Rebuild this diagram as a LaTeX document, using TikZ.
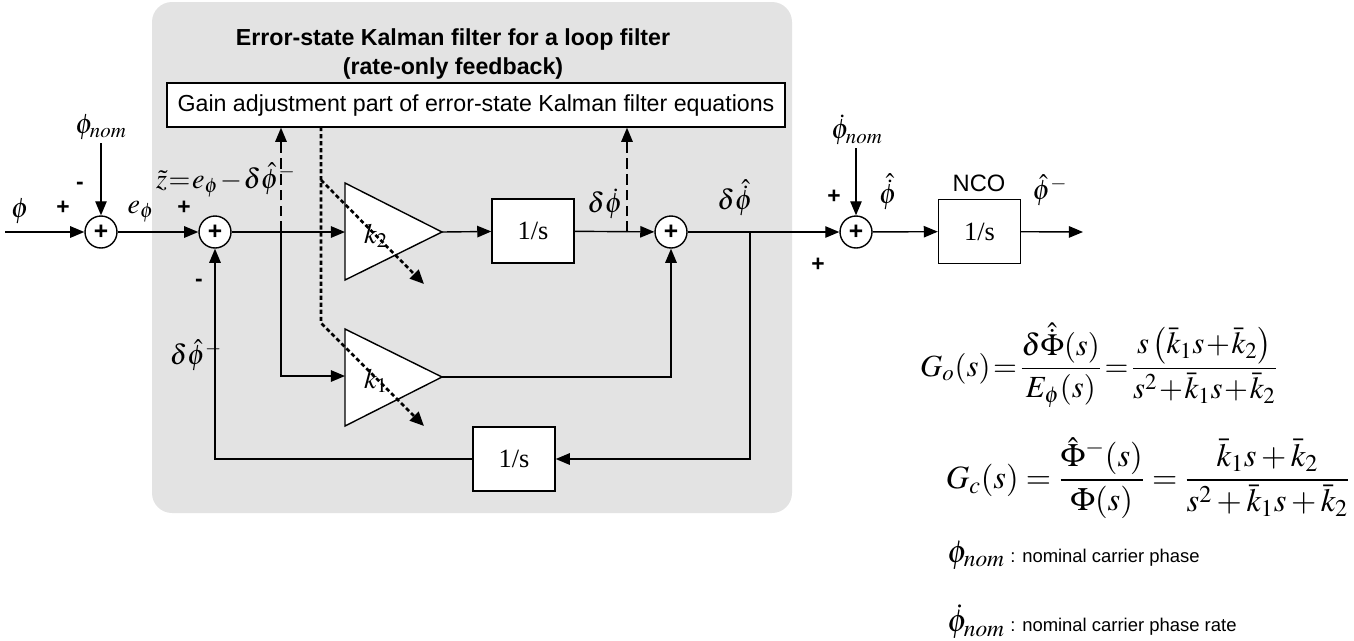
\documentclass[tikz,border=0pt]{standalone}
\usepackage{amsmath}
\usepackage{mathptmx}
\usepackage{fontspec}
\setmainfont{Liberation Sans}
\newfontfamily\tms{Liberation Serif}
\usetikzlibrary{arrows.meta}

\tikzset{
  sig/.style={line width=0.8pt,-{Triangle[length=8pt,width=6.5pt]}},
  gainline/.style={line width=0.8pt,dash pattern=on 6pt off 3pt,-{Triangle[length=8pt,width=6.5pt]}},
  tuneline/.style={line width=1.5pt,dash pattern=on 2.4pt off 1.6pt,-{Triangle[length=8pt,width=7pt]}},
  sumnode/.style={circle,draw,fill=white,line width=0.8pt,minimum size=0.64cm,inner sep=0pt,font=\fontsize{14}{14}\selectfont\bfseries},
  blk/.style={draw,fill=white,line width=0.8pt,minimum width=1.64cm,minimum height=1.28cm,font=\tms\fontsize{15}{15}\selectfont},
  ampbox/.style={draw,fill=white,line width=0.8pt},
  lbl/.style={font=\fontsize{16}{18}\selectfont,inner sep=1pt},
  sgn/.style={font=\fontsize{13}{13}\selectfont\bfseries,inner sep=1pt},
}

\begin{document}
\begin{tikzpicture}[x=0.02cm,y=-0.02cm]
\useasboundingbox (0,0) rectangle (1354,640);

% Kalman filter panel
\fill[black!11,rounded corners=0.4cm] (152,2) rectangle (792,513);
\node[align=center,font=\fontsize{13.2}{16}\selectfont\bfseries] (ttl) at (453,54)
  {Error-state Kalman filter for a loop filter\\(rate-only feedback)};
\node[draw,fill=white,line width=0.8pt,minimum width=12.36cm,minimum height=0.88cm,
  font=\fontsize{13.2}{14}\selectfont] (gain) at (476,105)
  {Gain adjustment part of error-state Kalman filter equations};

% summing junctions
\node[sumnode] (s1) at (101,232) {+};
\node[sumnode] (s2) at (215,232) {+};
\node[sumnode] (s3) at (671,232) {+};
\node[sumnode] (s4) at (856,232) {+};

% integrators
\node[blk] (int1) at (533,231) {1/s};
\node[blk] (fbint) at (514,459) {1/s};
\node[blk] (nco) at (979.5,231.5) {1/s};
\node[font=\fontsize{13.5}{13}\selectfont] (ncolbl) at (979,183) {NCO};

% gains
\draw[ampbox] (345,183) -- (442,232) -- (345,280) -- cycle;
\draw[ampbox] (345,329) -- (442,377) -- (345,426) -- cycle;
\node[lbl] (k2) at (376,236) {$k_2$};
\node[lbl] (k1) at (376,381) {$k_1$};
\coordinate (k2in) at (345,232);
\coordinate (k2out) at (442,232);
\coordinate (k1in) at (345,376);
\coordinate (k1out) at (442,377);

% end points and branch points
\coordinate (in) at (5,232);
\coordinate (out) at (1083,232);
\coordinate (nomtop) at (101,143);
\coordinate (ratetop) at (856,148);
\coordinate (jz) at (281,232);
\coordinate (jr) at (627,232);
\coordinate (jf) at (750,232);
\coordinate (tunetop) at (321,127);
\coordinate (tunebr) at (321,180);
\coordinate (tunebend) at (321,323);
\coordinate (k2tip) at (424,284);
\coordinate (k1tip) at (424,426);

% signal path
\draw[sig] (in) -- (s1);
\draw[sig] (nomtop) -- (s1);
\draw[sig] (s1) -- (s2);
\draw[sig] (s2) -- (k2in);
\draw[sig] (k2out) -- (int1);
\draw[sig] (int1) -- (s3);
\draw[sig] (s3) -- (s4);
\draw[sig] (ratetop) -- (s4);
\draw[sig] (s4) -- (nco);
\draw[sig] (nco) -- (out);
\draw[sig] (jz) |- (k1in);
\draw[sig] (k1out) -| (s3);
\draw[sig] (jf) |- (fbint);
\draw[sig] (fbint) -| (s2);

% measurements to the gain adjustment
\draw[gainline] (jz) -- (jz |- gain.south);
\draw[gainline] (jr) -- (jr |- gain.south);

% gain tuning
\draw[tuneline] (tunetop) -- (tunebend) -- (k1tip);
\draw[tuneline] (tunebr) -- (k2tip);

% labels
\node[lbl] (lphi) at (20,211) {$\phi$};
\node[sgn] (p1) at (63,208) {+};
\node[sgn] (m1) at (80,186) {-};
\node[lbl] (lnom) at (101,127) {$\phi_{nom}$};
\node[lbl] (le) at (141,212) {$e_\phi$};
\node[sgn] (p2) at (184,208) {+};
\node[sgn] (m2) at (199,283) {-};
\node[lbl] (lz) at (226,180)
  {$\medmuskip=1mu\thickmuskip=1mu\tilde{z}=e_\phi-\delta\hat{\phi}^-$};
\node[lbl] (lfb) at (196,355) {$\delta\hat{\phi}^-$};
\node[lbl] (lrate) at (605,204) {$\delta\dot{\phi}$};
\node[lbl] (lhrate) at (735,198) {$\delta\hat{\dot{\phi}}$};
\node[lbl] (lrnom) at (857,130) {$\dot{\phi}_{nom}$};
\node[sgn] (p3) at (834,197) {+};
\node[sgn] (p4) at (818,265) {+};
\node[lbl] (lhr) at (888,192) {$\hat{\dot{\phi}}$};
\node[lbl] (lout) at (1050,190) {$\hat{\phi}^-$};

% transfer functions
\node[font=\fontsize{17.5}{21}\selectfont] (go) at (1099,365)
  {$\medmuskip=1mu\thickmuskip=1.5mu G_o(s)=\dfrac{\delta\hat{\dot{\Phi}}(s)}{E_\phi(s)}=\dfrac{s\left(\bar{k}_1s+\bar{k}_2\right)}{s^2+\bar{k}_1s+\bar{k}_2}$};
\node[font=\fontsize{18.5}{22}\selectfont] (gc) at (1148,478)
  {$G_c(s)=\dfrac{\hat{\Phi}^-(s)}{\Phi(s)}=\dfrac{\bar{k}_1s+\bar{k}_2}{s^2+\bar{k}_1s+\bar{k}_2}$};

% legend
\node[anchor=west,inner sep=0pt] (lg1) at (947,555)
  {\fontsize{18}{18}\selectfont$\phi_{nom}$\,\fontsize{10.5}{13}\selectfont: nominal carrier phase};
\node[anchor=west,inner sep=0pt] (lg2) at (947,622)
  {\fontsize{18}{18}\selectfont$\dot{\phi}_{nom}$\,\fontsize{10.5}{13}\selectfont: nominal carrier phase rate};
\end{tikzpicture}
\end{document}
